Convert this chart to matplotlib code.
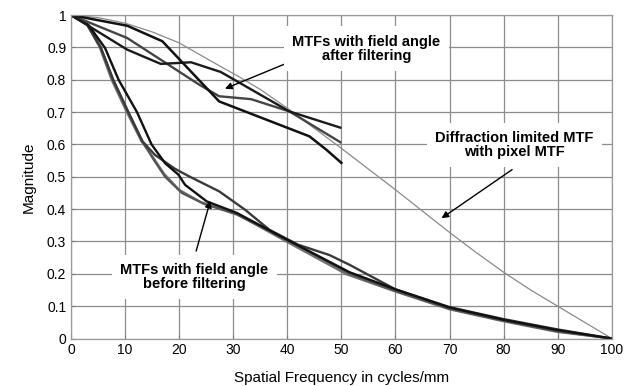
import matplotlib
matplotlib.use("Agg")
import matplotlib.pyplot as plt

plt.rcParams['font.family'] = ['Liberation Sans', 'DejaVu Sans']

# diffraction limited MTF with pixel MTF
x_diff = [0, 5, 10, 15, 20, 26.5, 31, 35, 40, 45, 50, 55, 60, 65, 70, 75, 80, 85, 90, 95, 100]
y_diff = [1, 0.992, 0.975, 0.948, 0.914, 0.852, 0.81, 0.77, 0.712, 0.65, 0.588, 0.524, 0.46, 0.394,
          0.328, 0.265, 0.205, 0.15, 0.1, 0.05, 0]

# MTFs after filtering
x_a = [0, 10.4, 16.9, 27.4, 44.1, 47.2, 50]
y_a = [1, 0.967, 0.919, 0.733, 0.625, 0.584, 0.543]
x_b = [0, 10.4, 23.7, 27.4, 33.3, 40.4, 49.8]
y_b = [1, 0.929, 0.785, 0.749, 0.74, 0.702, 0.607]
x_c = [0, 10.4, 16.6, 22.2, 27.7, 40.4, 49.8]
y_c = [1, 0.893, 0.849, 0.854, 0.824, 0.702, 0.652]

# MTFs before filtering
x_d = [0, 3.2, 6.3, 8.8, 12.2, 14.9, 17.4, 19.9, 21.1, 25.1, 30.7, 40, 51.5, 60, 70, 80, 90, 100]
y_d = [1, 0.97, 0.898, 0.80, 0.70, 0.60, 0.542, 0.506, 0.475, 0.424, 0.388, 0.305, 0.205, 0.152,
       0.096, 0.058, 0.026, 0]
x_e = [0, 3, 5.5, 7.8, 10.6, 13.2, 15.5, 19.2, 22, 27.4, 32.2, 36.7, 42, 47.8, 51.5, 60, 70, 80, 90, 100]
y_e = [1, 0.97, 0.9, 0.8, 0.7, 0.61, 0.568, 0.525, 0.5, 0.455, 0.398, 0.336, 0.29, 0.258, 0.228,
       0.152, 0.097, 0.06, 0.028, 0]
x_f = [0, 3, 5.5, 7.8, 10.6, 13.2, 15.4, 17.4, 20.5, 24.5, 30.7, 40.5, 51.5, 60, 70, 80, 90, 100]
y_f = [1, 0.97, 0.9, 0.8, 0.7, 0.61, 0.55, 0.50, 0.45, 0.417, 0.383, 0.3, 0.2, 0.147, 0.092,
       0.055, 0.022, 0]
x_g = [0, 3, 5.3, 7.5, 10.3, 13, 15.2, 17.2, 20, 24, 30.5, 40, 51, 60, 70, 80, 90, 100]
y_g = [1, 0.97, 0.9, 0.8, 0.7, 0.61, 0.56, 0.51, 0.46, 0.422, 0.386, 0.298, 0.198, 0.145, 0.09,
       0.053, 0.02, 0]

fig = plt.figure(figsize=(6.31, 3.86), dpi=100)
ax = fig.add_axes([0.1125, 0.123, 0.857, 0.838])

ax.plot(x_diff, y_diff, color='#8a8a8a', lw=0.9)
ax.plot(x_g, y_g, color='#707070', lw=1.5)
ax.plot(x_f, y_f, color='#555555', lw=1.6)
ax.plot(x_e, y_e, color='#3a3a3a', lw=1.7)
ax.plot(x_d, y_d, color='#111111', lw=1.7)
ax.plot(x_b, y_b, color='#444444', lw=1.7)
ax.plot(x_c, y_c, color='#1a1a1a', lw=1.7)
ax.plot(x_a, y_a, color='#111111', lw=1.8)

ax.set_xlim(0, 100)
ax.set_ylim(0, 1)
ax.set_xticks(range(0, 101, 10))
ax.set_yticks([i / 10 for i in range(11)])
ax.set_yticklabels(['0', '0.1', '0.2', '0.3', '0.4', '0.5', '0.6', '0.7', '0.8', '0.9', '1'])
ax.tick_params(direction='in', length=3, labelsize=10, color='#777777')
ax.grid(True, color='#8c8c8c', lw=0.9)
ax.set_axisbelow(True)
for s in ax.spines.values():
    s.set_color('#999999')
    s.set_linewidth(0.9)

ax.set_xlabel('Spatial Frequency in cycles/mm', fontsize=11, labelpad=10)
ax.set_ylabel('Magnitude', fontsize=11, labelpad=8)

box = dict(facecolor='white', edgecolor='none', pad=6)
arrow = dict(arrowstyle='-|>', color='black', lw=1.0, mutation_scale=10)
ax.annotate('', xy=(28, 0.769), xytext=(43.5, 0.876), arrowprops=arrow)
ax.annotate('', xy=(68.1, 0.367), xytext=(82, 0.527), arrowprops=arrow)
ax.annotate('', xy=(25.9, 0.434), xytext=(23, 0.262), arrowprops=arrow)
ax.text(54.6, 0.896, 'MTFs with field angle\nafter filtering', ha='center', va='center',
        fontsize=10.5, fontweight='bold', bbox=box, linespacing=1.0)
ax.text(82, 0.598, 'Diffraction limited MTF\nwith pixel MTF', ha='center', va='center',
        fontsize=10.5, fontweight='bold', bbox=box, linespacing=1.0)
ax.text(22.8, 0.19, 'MTFs with field angle\nbefore filtering', ha='center', va='center',
        fontsize=10.5, fontweight='bold', bbox=box, linespacing=1.0)

fig.savefig('out.png', dpi=100)
